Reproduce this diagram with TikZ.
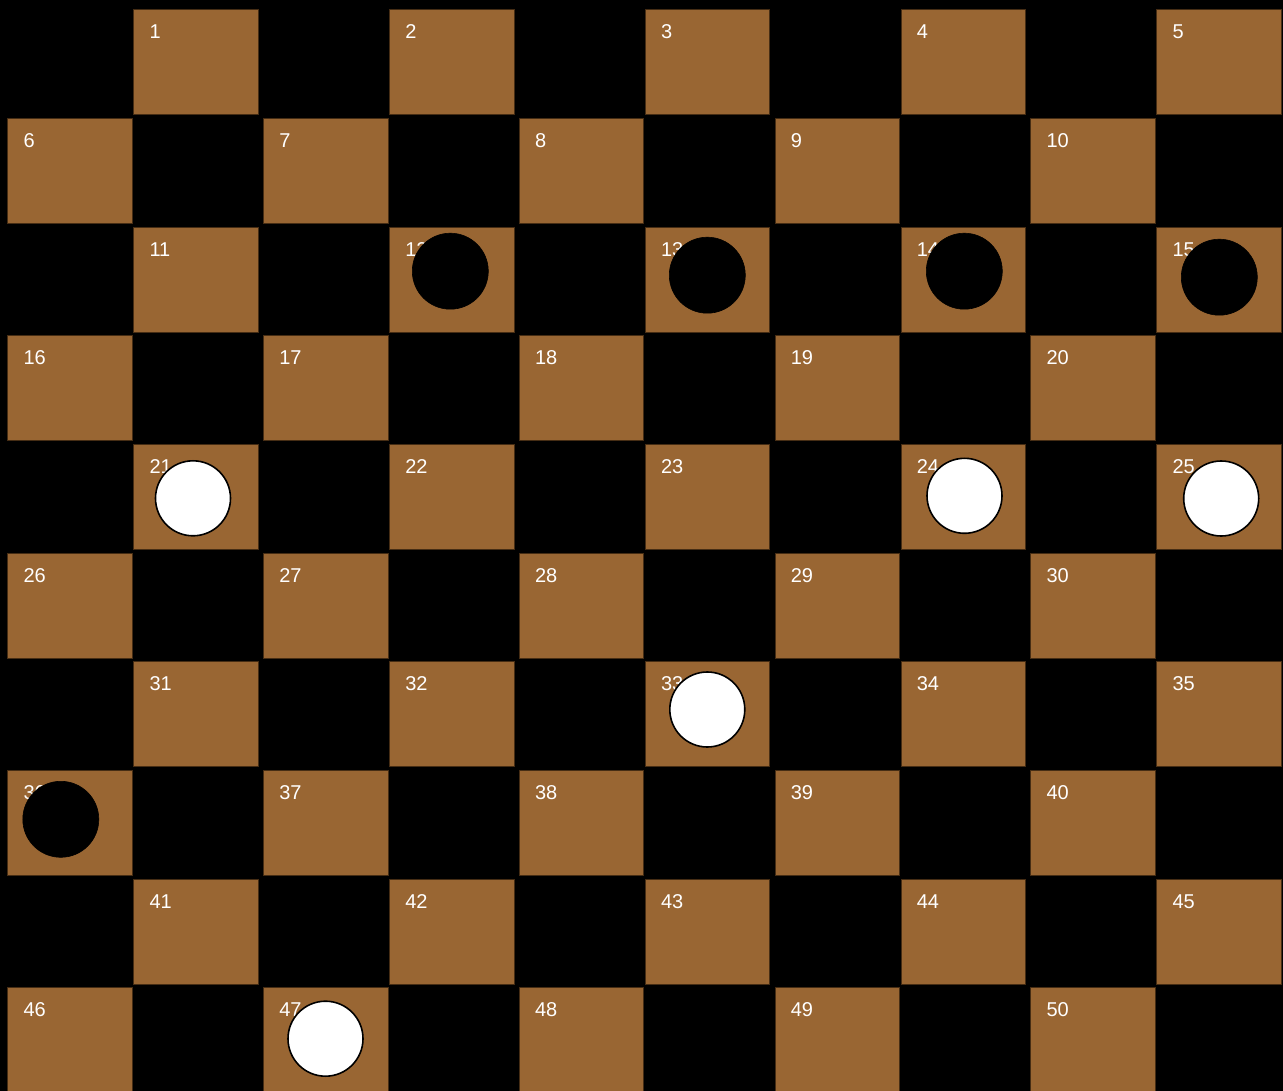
\documentclass[tikz,border=0pt]{standalone}
\usepackage{fontspec}
\setmainfont{Liberation Sans}
\definecolor{sqfill}{RGB}{153,102,51}
\definecolor{sqline}{RGB}{70,45,20}
\begin{document}
\begin{tikzpicture}[x=1pt,y=-1pt,
  sq/.style={draw=sqline,line width=0.8pt,fill=sqfill,rectangle,minimum width=124.5pt,minimum height=105pt,inner sep=0pt,anchor=north west},
  num/.style={text=white,anchor=base west,inner sep=0pt,font=\fontsize{20}{24}\selectfont},
  blackpc/.style={circle,fill=black,draw=black,line width=0.6pt,minimum size=76pt,inner sep=0pt},
  whitepc/.style={circle,fill=white,draw=black,line width=1.6pt,minimum size=75pt,inner sep=0pt}]
\fill[black] (0,0) rectangle (1283,1091);
\useasboundingbox (0,0) rectangle (1283,1091);
\begin{scope}
\clip (0,0) rectangle (1283,1091);
\foreach \r in {0,...,9}{
  \foreach \k in {0,...,4}{
    \pgfmathtruncatemacro{\n}{5*\r+\k+1}
    \pgfmathsetmacro{\xx}{7.3+126*(1-mod(\r,2))+\k*255.75}
    \pgfmathsetmacro{\yy}{9.3+\r*108.65}
    \node[sq] (s\n) at (\xx,\yy) {};
    \node[num] (l\n) at (\xx+16,\yy+29.5) {\n};
  }
}
\end{scope}
\node[blackpc] (p12) at (450.3,271.2) {};
\node[blackpc] (p13) at (707.3,275.2) {};
\node[blackpc] (p14) at (964.3,271.2) {};
\node[blackpc] (p15) at (1219.3,277.2) {};
\node[blackpc] (p36) at (60.8,819.3) {};
\node[whitepc] (p21) at (193,498.3) {};
\node[whitepc] (p24) at (964.5,495.8) {};
\node[whitepc] (p25) at (1221.2,498.5) {};
\node[whitepc] (p33) at (707.3,709.5) {};
\node[whitepc] (p47) at (325.5,1038.7) {};
\end{tikzpicture}
\end{document}
